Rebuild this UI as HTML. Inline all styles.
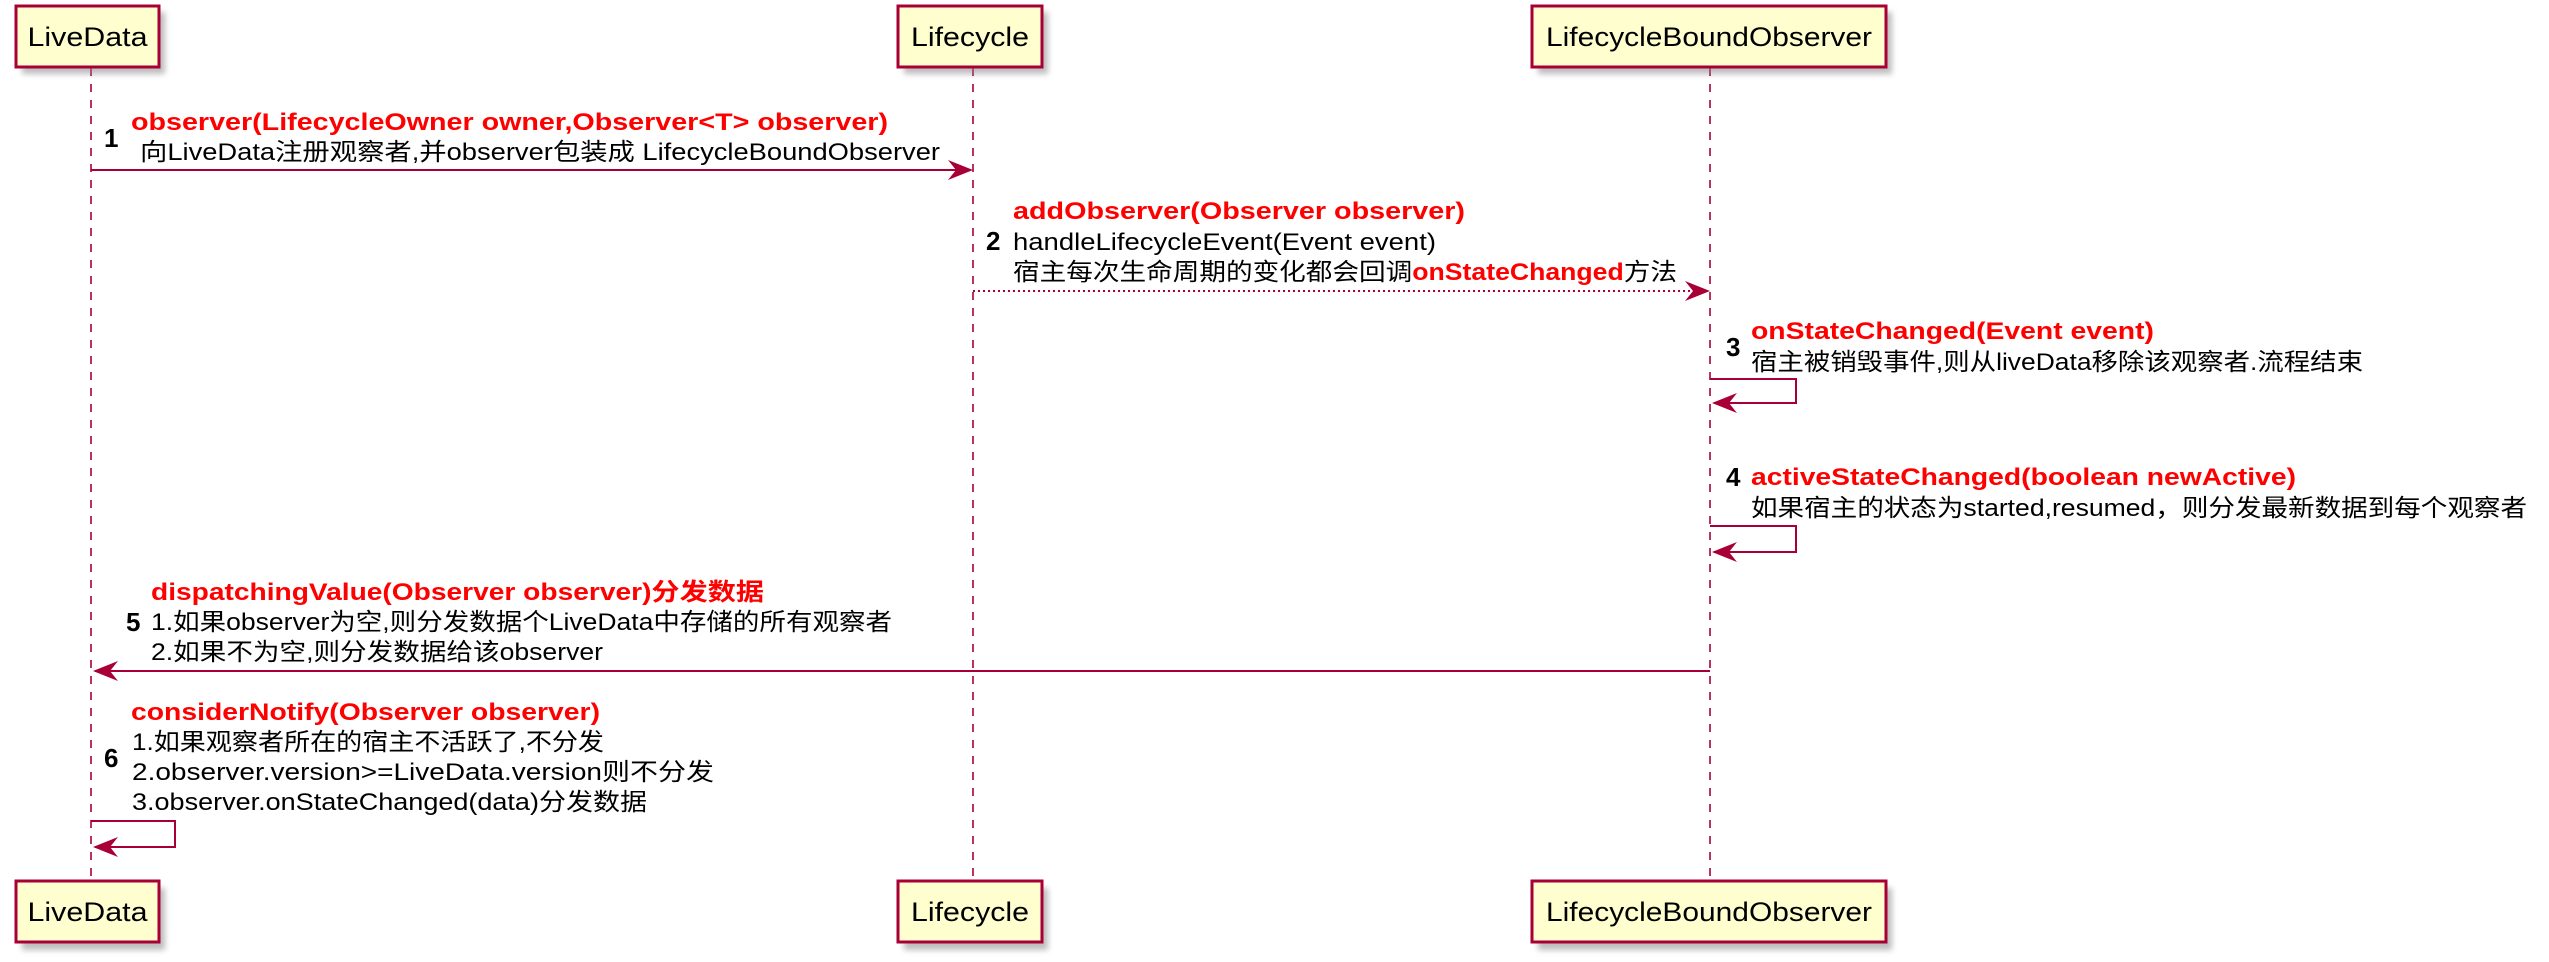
<!DOCTYPE html>
<html><head><meta charset="utf-8"><style>html,body{margin:0;padding:0;background:#fff}svg{display:block}</style></head>
<body>
<svg width="2549" height="962" viewBox="0 0 2549 962" xmlns="http://www.w3.org/2000/svg" font-family="'Liberation Sans','Noto Sans CJK SC',sans-serif">
<defs><filter id="sh" x="-20%" y="-20%" width="150%" height="160%"><feGaussianBlur stdDeviation="3"/></filter></defs>
<g stroke="#A80036" stroke-width="1.6" stroke-dasharray="8,8">
<line x1="91" y1="68" x2="91" y2="881"/>
<line x1="973" y1="68" x2="973" y2="881"/>
<line x1="1710" y1="68" x2="1710" y2="881"/>
</g>
<g fill="#888" opacity="0.55" filter="url(#sh)">
<rect x="22" y="12" width="143" height="62"/><rect x="904" y="12" width="144" height="62"/><rect x="1538" y="12" width="354" height="62"/>
<rect x="22" y="888" width="143" height="62"/><rect x="904" y="888" width="144" height="62"/><rect x="1538" y="888" width="354" height="62"/>
</g>
<g fill="#FEFECE" stroke="#A80036" stroke-width="3">
<rect x="16" y="6" width="143" height="61"/><rect x="898" y="6" width="144" height="61"/><rect x="1532" y="6" width="354" height="61"/>
<rect x="16" y="881" width="143" height="61"/><rect x="898" y="881" width="144" height="61"/><rect x="1532" y="881" width="354" height="61"/>
</g>
<g font-size="27" fill="#000" text-anchor="middle">
<text x="87.5" y="46" textLength="120" lengthAdjust="spacingAndGlyphs">LiveData</text><text x="970" y="46" textLength="118" lengthAdjust="spacingAndGlyphs">Lifecycle</text><text x="1709" y="46" textLength="326" lengthAdjust="spacingAndGlyphs">LifecycleBoundObserver</text>
<text x="87.5" y="921" textLength="120" lengthAdjust="spacingAndGlyphs">LiveData</text><text x="970" y="921" textLength="118" lengthAdjust="spacingAndGlyphs">Lifecycle</text><text x="1709" y="921" textLength="326" lengthAdjust="spacingAndGlyphs">LifecycleBoundObserver</text>
</g>
<g stroke="#A80036" stroke-width="2" fill="none">
<line x1="91" y1="170" x2="968" y2="170"/>
<line x1="973" y1="291" x2="1706" y2="291" stroke-dasharray="2,3"/>
<polyline points="1710,379 1796,379 1796,403 1714,403"/>
<polyline points="1710,526 1796,526 1796,552 1714,552"/>
<line x1="1710" y1="671" x2="95" y2="671"/>
<polyline points="91,821 175,821 175,847 95,847"/>
</g>
<g fill="#A80036">
<polygon points="973,170 948,160 956,170 948,180"/>
<polygon points="1710,291 1685,281 1693,291 1685,301"/>
<polygon points="1712,403 1737,393 1729,403 1737,413"/>
<polygon points="1712,552 1737,542 1729,552 1737,562"/>
<polygon points="93,671 118,661 110,671 118,681"/>
<polygon points="93,847 118,837 110,847 118,857"/>
</g>
<g font-size="24" fill="#000">
<text x="104" y="147" font-weight="bold" font-size="26">1</text>
<text x="131" y="130" fill="#FF0000" font-weight="bold" textLength="757" lengthAdjust="spacingAndGlyphs">observer(LifecycleOwner owner,Observer&lt;T&gt; observer)</text>
<text x="140" y="160" textLength="800" lengthAdjust="spacingAndGlyphs">向LiveData注册观察者,并observer包装成  LifecycleBoundObserver</text>

<text x="1013" y="219" fill="#FF0000" font-weight="bold" textLength="452" lengthAdjust="spacingAndGlyphs">addObserver(Observer observer)</text>
<text x="986" y="250" font-weight="bold" font-size="26">2</text>
<text x="1013" y="250" textLength="423" lengthAdjust="spacingAndGlyphs">handleLifecycleEvent(Event event)</text>
<text x="1013" y="280" textLength="664" lengthAdjust="spacingAndGlyphs">宿主每次生命周期的变化都会回调<tspan fill="#FF0000" font-weight="bold">onStateChanged</tspan>方法</text>

<text x="1726" y="356" font-weight="bold" font-size="26">3</text>
<text x="1751" y="339" fill="#FF0000" font-weight="bold" textLength="403" lengthAdjust="spacingAndGlyphs">onStateChanged(Event event)</text>
<text x="1751" y="370" textLength="612" lengthAdjust="spacingAndGlyphs">宿主被销毁事件,则从liveData移除该观察者.流程结束</text>

<text x="1726" y="486" font-weight="bold" font-size="26">4</text>
<text x="1751" y="485" fill="#FF0000" font-weight="bold" textLength="545" lengthAdjust="spacingAndGlyphs">activeStateChanged(boolean newActive)</text>
<text x="1751" y="516" textLength="776" lengthAdjust="spacingAndGlyphs">如果宿主的状态为started,resumed，则分发最新数据到每个观察者</text>

<text x="151" y="600" fill="#FF0000" font-weight="bold" textLength="613" lengthAdjust="spacingAndGlyphs">dispatchingValue(Observer observer)分发数据</text>
<text x="126" y="631" font-weight="bold" font-size="26">5</text>
<text x="151" y="630" textLength="741" lengthAdjust="spacingAndGlyphs">1.如果observer为空,则分发数据个LiveData中存储的所有观察者</text>
<text x="151" y="660" textLength="452" lengthAdjust="spacingAndGlyphs">2.如果不为空,则分发数据给该observer</text>

<text x="131" y="720" fill="#FF0000" font-weight="bold" textLength="469" lengthAdjust="spacingAndGlyphs">considerNotify(Observer observer)</text>
<text x="104" y="767" font-weight="bold" font-size="26">6</text>
<text x="132" y="750" textLength="472" lengthAdjust="spacingAndGlyphs">1.如果观察者所在的宿主不活跃了,不分发</text>
<text x="132" y="780" textLength="582" lengthAdjust="spacingAndGlyphs">2.observer.version&gt;=LiveData.version则不分发</text>
<text x="132" y="810" textLength="515" lengthAdjust="spacingAndGlyphs">3.observer.onStateChanged(data)分发数据</text>
</g>
</svg>
</body></html>
